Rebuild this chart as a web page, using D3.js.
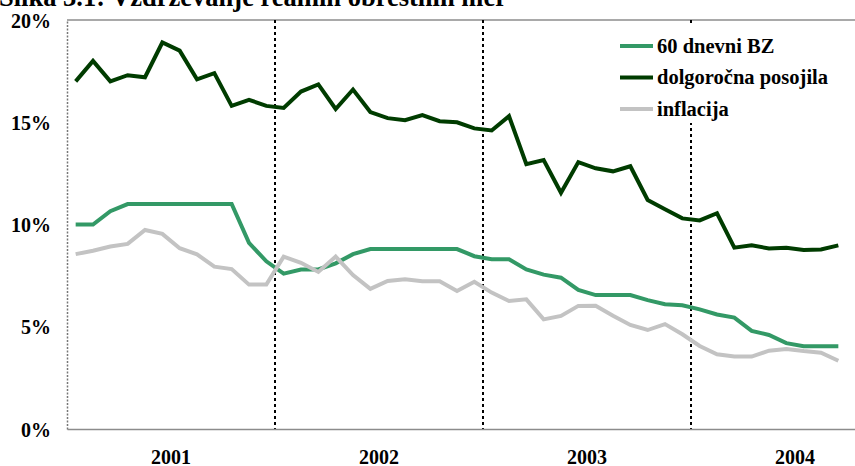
<!DOCTYPE html>
<html>
<head>
<meta charset="utf-8">
<script src="https://cdn.jsdelivr.net/npm/d3@7"></script>
<style>
  html, body { margin: 0; padding: 0; background: #fff; }
  svg { display: block; }
  text { font-family: "Liberation Serif", "Times New Roman", serif; font-weight: bold; fill: #000; }
</style>
</head>
<body>
<svg id="chart" width="855" height="466"></svg>
<script>
// Monthly categories, January 2001 – December 2004 (data runs to September 2004)
const years = ["2001", "2002", "2003", "2004"];
const months = years.flatMap(y => d3.range(1, 13).map(m => `${y}-${String(m).padStart(2, "0")}`));

// Interest rates and inflation, % per year
const bz60 = [10.0, 10.0, 10.65, 11.0, 11.0, 11.0, 11.0, 11.0, 11.0, 11.0, 9.1, 8.2,
              7.6, 7.8, 7.8, 8.1, 8.55, 8.8, 8.8, 8.8, 8.8, 8.8, 8.8, 8.45,
              8.3, 8.3, 7.8, 7.55, 7.4, 6.8, 6.55, 6.55, 6.55, 6.3, 6.1, 6.05,
              5.85, 5.6, 5.45, 4.8, 4.6, 4.2, 4.05, 4.05, 4.05];
const posojila = [17.0, 18.0, 17.0, 17.3, 17.2, 18.9, 18.5, 17.1, 17.4, 15.8, 16.1, 15.8,
                  15.7, 16.5, 16.85, 15.65, 16.6, 15.5, 15.2, 15.1, 15.35, 15.05, 15.0, 14.7,
                  14.6, 15.3, 12.95, 13.15, 11.55, 13.05, 12.75, 12.6, 12.85, 11.2, 10.75, 10.3,
                  10.2, 10.55, 8.87, 8.98, 8.83, 8.86, 8.75, 8.78, 8.98];
const inflacija = [8.55, 8.72, 8.92, 9.05, 9.73, 9.54, 8.84, 8.54, 7.94, 7.82, 7.06, 7.06,
                   8.43, 8.13, 7.68, 8.43, 7.53, 6.85, 7.24, 7.32, 7.22, 7.22, 6.75, 7.2,
                   6.67, 6.26, 6.34, 5.36, 5.53, 6.02, 6.03, 5.54, 5.09, 4.84, 5.13, 4.63,
                   4.06, 3.65, 3.54, 3.54, 3.83, 3.91, 3.81, 3.73, 3.34];

const yTicks = [0, 5, 10, 15, 20];
const seriesNames = ["60 dnevni BZ", "dolgoročna posojila", "inflacija"];
const seriesColors = ["#339966", "#003c00", "#c3c3c3"];
const seriesValues = [bz60, posojila, inflacija];
const title = "Slika 3.1:  Vzdrževanje realnih obrestnih mer";

const svg = d3.select("#chart");
const plotLeft = 67, plotTop = 20, plotBottom = 429;
const step = 208 / 12;

const x = d3.scaleBand().domain(months).range([plotLeft, plotLeft + step * months.length]).padding(0);
const y = d3.scaleLinear().domain([0, 20]).range([plotBottom, plotTop]);
const cx = i => x(months[i]) + x.bandwidth() / 2;

// Title (sits partly above the page edge)
svg.append("text")
  .attr("x", -1).attr("y", 6)
  .attr("font-size", 26.5)
  .text(title);

// Top frame line at 20 %
svg.append("line")
  .attr("x1", plotLeft).attr("x2", 855)
  .attr("y1", y(20)).attr("y2", y(20))
  .attr("stroke", "#8c8c8c").attr("stroke-width", 1.3);

// Year dividers
svg.append("g").selectAll("line")
  .data(years.slice(1))
  .join("line")
  .attr("x1", d => x(`${d}-01`)).attr("x2", d => x(`${d}-01`))
  .attr("y1", plotTop).attr("y2", plotBottom)
  .attr("stroke", "#000").attr("stroke-width", 2)
  .attr("stroke-dasharray", "3,3");

// Y axis
const yAxis = svg.append("g")
  .attr("transform", `translate(${plotLeft},0)`)
  .call(d3.axisLeft(y).tickValues(yTicks).tickSize(0).tickPadding(16).tickFormat(d => d + "%"));
yAxis.select(".domain")
  .attr("stroke", "#777").attr("stroke-width", 1.5).attr("stroke-dasharray", "2,1.5");
yAxis.selectAll("text").attr("font-size", 20).attr("font-family", null).attr("dy", "0.36em");

// X axis with year labels at mid-year
const xAxis = svg.append("g")
  .attr("transform", `translate(0,${plotBottom})`)
  .call(d3.axisBottom(x)
    .tickValues(years.map(yr => `${yr}-07`))
    .tickSize(0).tickPadding(22)
    .tickFormat(d => d.slice(0, 4)));
xAxis.select(".domain").attr("stroke", "#8c8c8c").attr("stroke-width", 1.3);
xAxis.selectAll(".tick text").attr("font-size", 20).attr("font-family", null)
  .attr("dy", 0).attr("y", 34.5)
  .attr("transform", `translate(${-x.bandwidth() / 2},0)`);

// Series lines
const line = d3.line().x((d, i) => cx(i)).y(d => y(d));
svg.append("g").selectAll("path")
  .data(seriesValues)
  .join("path")
  .attr("d", d => line(d))
  .attr("fill", "none")
  .attr("stroke", (d, i) => seriesColors[i])
  .attr("stroke-width", 4)
  .attr("stroke-linejoin", "miter");

// Legend
const legend = svg.append("g");
legend.append("rect")
  .attr("x", 612).attr("y", 24).attr("width", 228).attr("height", 99)
  .attr("fill", "#fff");
const rows = legend.selectAll("g.row")
  .data(seriesNames)
  .join("g").attr("class", "row")
  .attr("transform", (d, i) => `translate(620,${46 + i * 31.5})`);
rows.append("line")
  .attr("x1", 0).attr("x2", 33).attr("y1", 0).attr("y2", 0)
  .attr("stroke", (d, i) => seriesColors[i]).attr("stroke-width", 4);
rows.append("text")
  .attr("x", 37).attr("y", 0).attr("dy", "0.33em")
  .attr("font-size", 20.5)
  .text(d => d);
</script>
</body>
</html>
